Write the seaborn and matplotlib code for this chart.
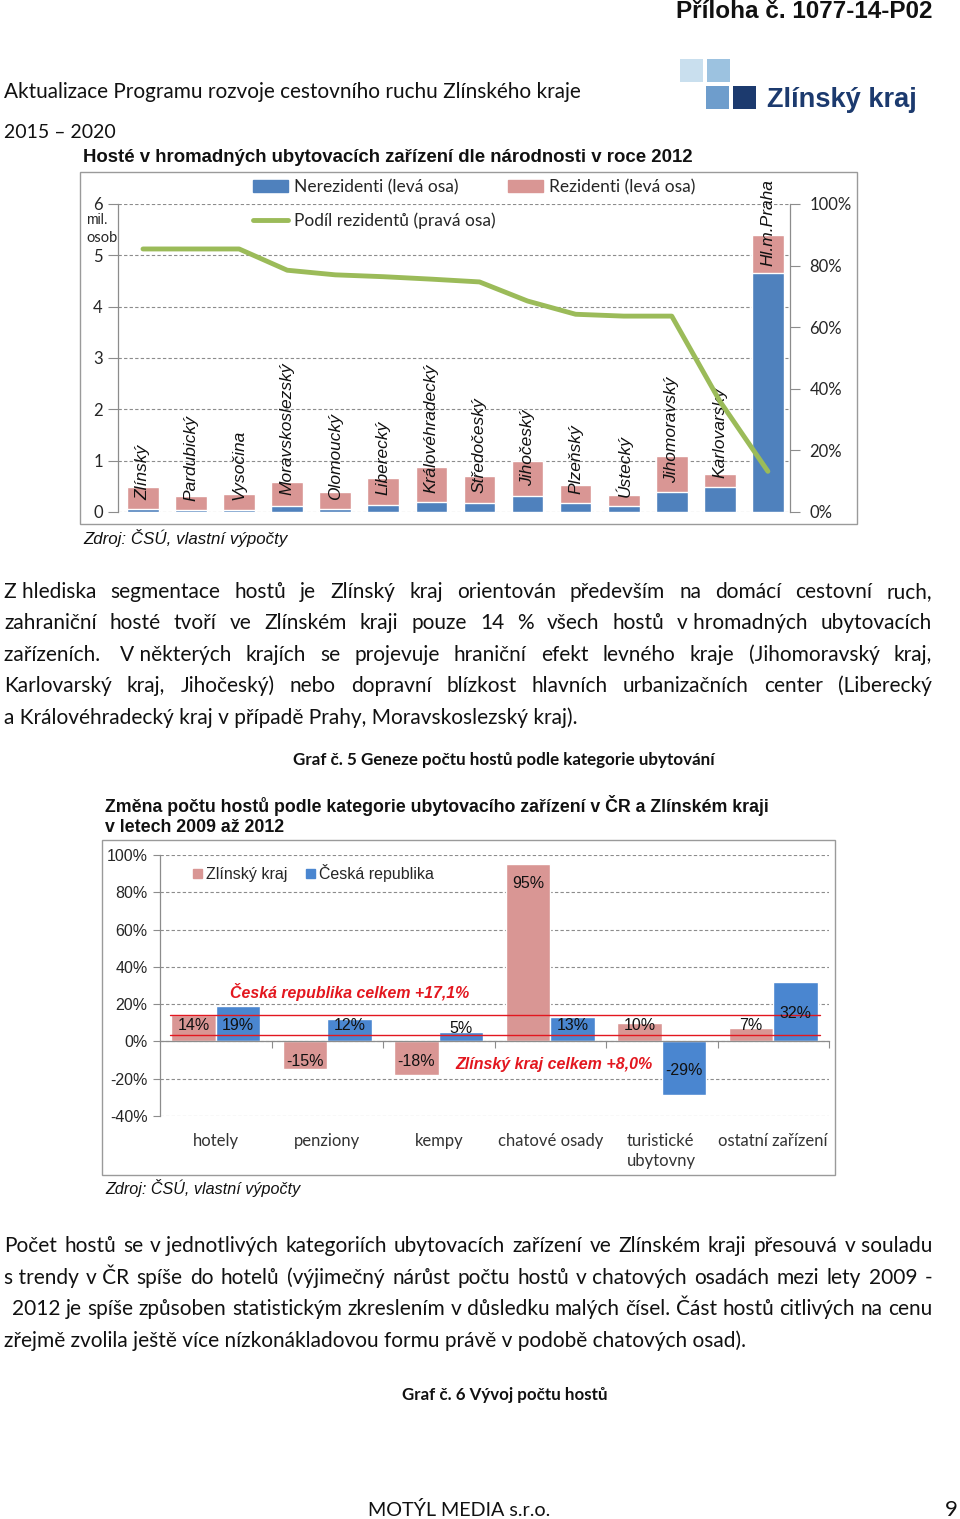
import matplotlib
matplotlib.use('Agg')
import matplotlib.pyplot as plt
from matplotlib.patches import Rectangle, Patch
from matplotlib.lines import Line2D
import seaborn as sns
import pandas as pd
import numpy as np

# graf 1 - hoste v HUZ dle narodnosti 2012 (mil. osob), podil rezidentu (%)
kraje = ['Zlínský', 'Pardubický', 'Vysočina', 'Moravskoslezský', 'Olomoucký',
         'Liberecký', 'Královéhradecký', 'Středočeský', 'Jihočeský', 'Plzeňský',
         'Ústecký', 'Jihomoravský', 'Karlovarský', 'Hl.m.Praha']
nerezidenti = [0.06, 0.04, 0.03, 0.12, 0.06, 0.14, 0.20, 0.18, 0.31, 0.18, 0.12, 0.39, 0.48, 4.66]
rezidenti = [0.42, 0.27, 0.33, 0.47, 0.33, 0.52, 0.67, 0.53, 0.69, 0.35, 0.22, 0.70, 0.27, 0.73]
podil_rez = [85.4, 85.4, 85.4, 78.5, 77.0, 76.4, 75.6, 74.7, 68.5, 64.2, 63.6, 63.6, 36.0, 13.2]

# graf 2 - zmena poctu hostu 2009-2012 (%)
kategorie = ['hotely', 'penziony', 'kempy', 'chatové osady',
             'turistické\nubytovny', 'ostatní zařízení']
zmena_zk = [14, -15, -18, 95, 10, 7]
zmena_cr = [19, 12, 5, 13, -29, 32]
celkem_cr = '+17,1%'
celkem_zk = '+8,0%'

# layout only (where labels sit)
kraj_label_y = [0.24, 0.22, 0.24, 0.34, 0.24, 0.34, 0.37, 0.37, 0.5, 0.35, 0.3, 0.57, 0.66, 4.8]
lab_y_zk = [8.6, -10.7, -10.7, 84.8, 8.6, 8.6]
lab_y_cr = [8.6, 8.6, 7.1, 8.6, -15.5, 15.0]
red_lines = [14.2, 3.4]

odst1 = [
    'Z\u00a0hlediska segmentace hostů je Zlínský kraj orientován především na domácí cestovní ruch,',
    'zahraniční hosté tvoří ve Zlínském kraji pouze 14 % všech hostů v\u00a0hromadných ubytovacích',
    'zařízeních.\u00a0 V\u00a0některých krajích se projevuje hraniční efekt levného kraje (Jihomoravský kraj,',
    'Karlovarský kraj, Jihočeský) nebo dopravní blízkost hlavních urbanizačních center (Liberecký',
    'a\u00a0Královéhradecký kraj v\u00a0případě Prahy, Moravskoslezský kraj).',
]
odst2 = [
    'Počet hostů se v\u00a0jednotlivých kategoriích ubytovacích zařízení ve Zlínském kraji přesouvá v\u00a0souladu',
    's\u00a0trendy v\u00a0ČR spíše do hotelů (výjimečný nárůst počtu hostů v\u00a0chatových osadách mezi lety 2009 -',
    '2012 je spíše způsoben statistickým zkreslením v\u00a0důsledku malých čísel. Část hostů citlivých na cenu',
    'zřejmě zvolila ještě více nízkonákladovou formu právě v\u00a0podobě chatových osad).',
]

BLUE = '#4F81BD'
BLUE2 = '#4A86D0'
PINK = '#D99694'
GREEN = '#9BBB59'
RED = '#E3171F'
GRID = '#8C8C8C'
CAL = 'Lato'
ARIAL = 'Liberation Sans'
NARROW = ['Liberation Sans Narrow', 'Liberation Sans']

sns.set_theme(style='white')
plt.rcParams['font.family'] = [CAL, 'DejaVu Sans']

W, H = 960, 1519
fig = plt.figure(figsize=(W / 100, H / 100), dpi=100)
rend = fig.canvas.get_renderer()


def fx(x):
    return x / W


def fy(y):
    return 1 - y / H


def txt(x, y, s, **kw):
    kw.setdefault('va', 'center')
    return fig.text(fx(x), fy(y), s, **kw)


def width(s, size, **kw):
    t = fig.text(0, 0, s, fontsize=size, **kw)
    w = t.get_window_extent(rend).width
    t.remove()
    return w


def fitted(x0, x1, y, s, **kw):
    size = 10 * (x1 - x0) / width(s, 10, **kw)
    return txt(x0, y, s, fontsize=size, **kw)


def justify(line, x0, x1, y, size, **kw):
    words = line.split(' ')
    ws = [width(w, size, **kw) for w in words]
    gap = (x1 - x0 - sum(ws)) / (len(words) - 1)
    x = x0
    for w, wd in zip(words, ws):
        txt(x, y, w, fontsize=size, **kw)
        x += wd + gap


# --- hlavicka stranky ---
txt(933, 12, 'Příloha č. 1077-14-P02', fontsize=17.5, fontweight='bold',
    family=NARROW, ha='right', color='#111111')
fitted(4, 580, 92, 'Aktualizace Programu rozvoje cestovního ruchu Zlínského kraje',
       family=CAL, color='#111111')
fitted(4, 116, 132, '2015 – 2020', family=CAL, color='#111111')

# logo
for (x, y, c) in [(680, 59, '#C9DFEE'), (707, 59, '#9CC2E0'),
                  (706, 86, '#6E9DCC'), (733, 86, '#1C3A6E')]:
    fig.add_artist(Rectangle((fx(x), fy(y + 23)), 23 / W, 23 / H,
                             transform=fig.transFigure, color=c, lw=0))
fitted(767, 917, 100, 'Zlínský kraj', family=ARIAL, fontweight='bold', color='#1C3A6E')

# --- graf 1 ---
fitted(83, 696, 157, 'Hosté v hromadných ubytovacích zařízení dle národnosti v roce 2012',
       family=NARROW, fontweight='bold', color='#111111')
fig.add_artist(Rectangle((fx(80), fy(524)), 777 / W, 352 / H, transform=fig.transFigure,
                         fill=False, ec='#9A9A9A', lw=1))

ax1 = fig.add_axes([fx(118), fy(512), (790 - 118) / W, (512 - 204) / H])
celkem = np.array(nerezidenti) + np.array(rezidenti)
sns.barplot(x=kraje, y=celkem, color=PINK, saturation=1, width=0.66, ax=ax1)
sns.barplot(x=kraje, y=nerezidenti, color=BLUE, saturation=1, width=0.66, ax=ax1)
ax1.set_xlim(-0.52, 13.46)
ax1.set_ylim(0, 6)
ax1.set_yticks(range(0, 7))
ax1.set_yticklabels([str(v) for v in range(0, 7)], fontsize=12, family=CAL)
ax1.set_xticks([])
ax1.set_xlabel('')
ax1.set_ylabel('')
ax1.yaxis.grid(True, linestyle=(0, (3, 2)), color=GRID, lw=0.8)
ax1.set_axisbelow(True)
ax1.tick_params(axis='y', left=True, length=7, width=0.8, color=GRID, pad=4)
for s in ['top', 'bottom', 'right']:
    ax1.spines[s].set_visible(False)
ax1.spines['left'].set_color(GRID)
ax1.spines['left'].set_linewidth(0.9)

for i, k in enumerate(kraje):
    ax1.text(i, kraj_label_y[i], k, rotation=90, ha='center', va='bottom',
             style='italic', fontsize=12.5, family=ARIAL, color='#111111', clip_on=False)

ax1r = ax1.twinx()
sns.lineplot(x=np.arange(len(kraje)), y=podil_rez, color=GREEN, lw=3.5, sort=False, ax=ax1r)
ax1r.set_ylim(0, 100)
ax1r.set_yticks(range(0, 101, 20))
ax1r.set_yticklabels([f'{v}%' for v in range(0, 101, 20)], fontsize=12, family=CAL)
ax1r.set_ylabel('')
ax1r.tick_params(axis='y', right=True, length=7, width=0.8, color=GRID, pad=7)
for s in ['top', 'bottom', 'left']:
    ax1r.spines[s].set_visible(False)
ax1r.spines['right'].set_color(GRID)
ax1r.spines['right'].set_linewidth(0.9)

txt(86, 220, 'mil.', fontsize=10, family=ARIAL, va='center')
txt(86, 238, 'osob', fontsize=10.5, family=CAL, va='center')

fig.legend(handles=[Patch(color=BLUE), Line2D([], [], color=GREEN, lw=3.5), Patch(color=PINK)],
           labels=['Nerezidenti (levá osa)', 'Podíl rezidentů (pravá osa)', 'Rezidenti (levá osa)'],
           ncol=2, loc='upper left', bbox_to_anchor=(fx(253), fy(179)), frameon=False,
           prop={'family': CAL, 'size': 12.5}, handlelength=2.0, handleheight=0.6,
           handletextpad=0.35, columnspacing=0.75, labelspacing=1.0,
           borderaxespad=0, borderpad=0)

fitted(83, 288, 538, 'Zdroj: ČSÚ, vlastní výpočty', family=NARROW, style='italic', color='#111111')

# --- odstavec 1 ---
size1 = 10 * (577 - 4) / width(odst1[-1], 10, family=CAL)
for j, (line, y) in enumerate(zip(odst1, [592, 623, 655, 686, 718])):
    if j < len(odst1) - 1:
        justify(line, 4, 932, y, size1, family=CAL, color='#111111')
    else:
        txt(4, y, line, fontsize=size1, family=CAL, color='#111111')

fitted(293, 717, 760, 'Graf č. 5 Geneze počtu hostů podle kategorie ubytování',
       family=CAL, fontweight='bold', color='#111111')

# --- graf 2 ---
fitted(105, 767, 805, 'Změna počtu hostů podle kategorie ubytovacího zařízení v ČR a Zlínském kraji',
       family=NARROW, fontweight='bold', color='#111111')
fitted(105, 283, 828, 'v letech 2009 až 2012', family=NARROW, fontweight='bold', color='#111111')
fig.add_artist(Rectangle((fx(102), fy(1175)), 733 / W, 335 / H, transform=fig.transFigure,
                         fill=False, ec='#9A9A9A', lw=1))

ax2 = fig.add_axes([fx(160), fy(1116), (829 - 160) / W, (1116 - 855) / H])
df = pd.DataFrame({'kat': kategorie * 2,
                   'serie': ['Zlínský kraj'] * 6 + ['Česká republika'] * 6,
                   'val': zmena_zk + zmena_cr})
sns.barplot(data=df, x='kat', y='val', hue='serie', palette=[PINK, BLUE2], saturation=1,
            width=0.8, gap=0, legend=False, ax=ax2)
ax2.set_xlim(-0.5, 5.5)
ax2.set_ylim(-40, 100)
ax2.set_yticks(range(-40, 101, 20))
ax2.set_yticklabels([f'{v}%' for v in range(-40, 101, 20)], fontsize=11.5, family=ARIAL)
ax2.set_xticks(np.arange(0.5, 6, 1))
ax2.set_xticklabels([])
ax2.set_xlabel('')
ax2.set_ylabel('')
ax2.yaxis.grid(True, linestyle=(0, (3, 2)), color=GRID, lw=0.8)
ax2.set_axisbelow(True)
ax2.tick_params(axis='y', left=True, length=5, width=0.8, color=GRID, pad=4)
ax2.tick_params(axis='x', bottom=True, length=5, width=0.8, color=GRID)
for s in ['top', 'right']:
    ax2.spines[s].set_visible(False)
ax2.spines['bottom'].set_position(('data', 0))
for s in ['left', 'bottom']:
    ax2.spines[s].set_color(GRID)
    ax2.spines[s].set_linewidth(0.9)

for i, k in enumerate(kategorie):
    ax2.annotate(k, (i, -40), xytext=(0, -12), textcoords='offset points', ha='center',
                 va='top', fontsize=12, family=CAL, color='#333333', multialignment='left',
                 linespacing=1.35)
    ax2.text(i - 0.2, lab_y_zk[i], f'{zmena_zk[i]}%', ha='center', va='center',
             fontsize=11.5, family=ARIAL, color='#111111')
    ax2.text(i + 0.2, lab_y_cr[i], f'{zmena_cr[i]}%', ha='center', va='center',
             fontsize=11.5, family=ARIAL, color='#111111')

for lv in red_lines:
    ax2.plot([-0.41, 5.42], [lv, lv], color=RED, lw=1)

ax2.legend(handles=[Patch(color=PINK), Patch(color=BLUE2)],
           labels=['Zlínský kraj', 'Česká republika'], ncol=2, loc='upper left',
           bbox_to_anchor=(fx(193), fy(864)), bbox_transform=fig.transFigure, frameon=False,
           prop={'family': ARIAL, 'size': 11.5}, handlelength=0.55, handleheight=0.55,
           handletextpad=0.25, columnspacing=1.2, borderaxespad=0, borderpad=0)

fitted(230, 470, 992, f'Česká republika celkem {celkem_cr}', family=ARIAL,
       fontweight='bold', style='italic', color=RED)
fitted(455, 652, 1064, f'Zlínský kraj celkem {celkem_zk}', family=ARIAL,
       fontweight='bold', style='italic', color=RED)

fitted(105, 300, 1188, 'Zdroj: ČSÚ, vlastní výpočty', family=NARROW, style='italic', color='#111111')

# --- odstavec 2 ---
for j, (line, y) in enumerate(zip(odst2, [1246, 1278, 1309, 1341])):
    if j < len(odst2) - 1:
        justify(line, 12 if j == 2 else 4, 932, y, size1, family=CAL, color='#111111')
    else:
        txt(4, y, line, fontsize=size1, family=CAL, color='#111111')

fitted(402, 608, 1395, 'Graf č. 6 Vývoj počtu hostů', family=CAL, fontweight='bold', color='#111111')

# paticka
fitted(368, 550, 1510, 'MOTÝL MEDIA s.r.o.', family=CAL, color='#111111')
txt(958, 1510, '9', fontsize=16, family=CAL, ha='right', color='#111111')

fig.savefig('out.png', dpi=100)
